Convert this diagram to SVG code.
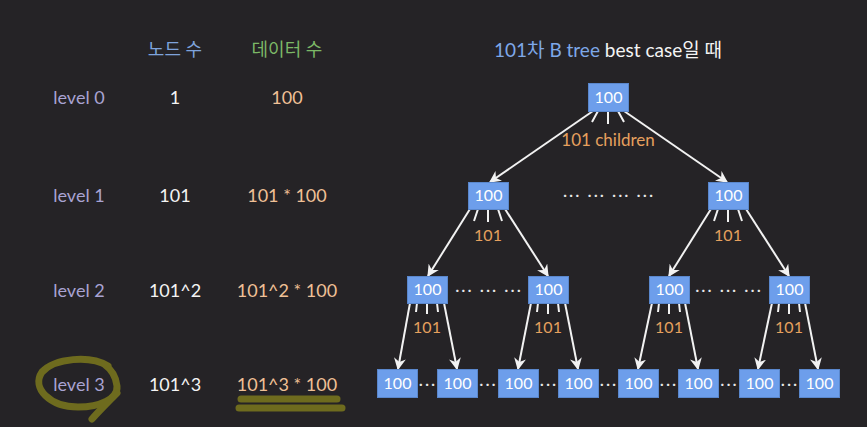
<svg xmlns="http://www.w3.org/2000/svg" width="867" height="427" viewBox="0 0 867 427">
<defs>
<style>
text{font-family:Lato,"Open Sans","Noto Sans CJK KR",sans-serif;text-anchor:middle}
.tb{font-size:18px}
.lv{fill:#a9a3d3}
.nc{fill:#f4f4f4}
.dc{fill:#f0c096}
.node rect{fill:#6d9eeb;stroke:#5a87cc;stroke-width:1}
.node text{fill:#ffffff;font-size:16px}
.lbl{fill:#e6a05e;font-size:16px}
.dots{fill:#e8e8e8;font-size:16px;letter-spacing:2px}
.arr{stroke:#f2f2f2;stroke-width:2;fill:none;marker-end:url(#ah)}
.fan{stroke:#f2f2f2;stroke-width:2;fill:none}
.hl{stroke:#6e6b1e;stroke-width:7;fill:none;stroke-linecap:round;stroke-linejoin:round}
</style>
<marker id="ah" viewBox="0 0 10 10" refX="9" refY="5" markerWidth="6" markerHeight="6" orient="auto" markerUnits="strokeWidth">
<path d="M0,0 L10,5 L0,10 L3,5 z" fill="#f2f2f2"/>
</marker>
</defs>
<rect width="867" height="427" fill="#252326"/>

<g id="table">
<text class="tb" x="175" y="56" fill="#7ea3dc">노드 수</text>
<text class="tb" x="287" y="56" fill="#7cb866">데이터 수</text>
<text class="tb lv" x="79" y="104">level 0</text>
<text class="tb nc" x="175" y="104">1</text>
<text class="tb dc" x="287" y="104">100</text>
<text class="tb lv" x="79" y="202">level 1</text>
<text class="tb nc" x="175" y="202">101</text>
<text class="tb dc" x="287" y="202">101 * 100</text>
<text class="tb lv" x="79" y="297">level 2</text>
<text class="tb nc" x="175" y="297">101^2</text>
<text class="tb dc" x="287" y="297">101^2 * 100</text>
<text class="tb lv" x="79" y="391">level 3</text>
<text class="tb nc" x="175" y="391">101^3</text>
<text class="tb dc" x="287" y="391">101^3 * 100</text>
</g>

<g id="highlight">
<path class="hl" d="M108 366 C90 355,55 358,42 372 C31 388,50 407,78 407 C100 407,118 399,117 386 C116 376,111 369,104 364"/>
<path class="hl" d="M117 393 C108 402,99 411,92 419"/>
<path class="hl" d="M241 399 L337 399"/>
<path class="hl" d="M239 408 L342 408"/>
</g>

<text id="title" x="608" y="57" style="font-size:19px"><tspan fill="#7ea8e8">101차 B tree </tspan><tspan fill="#f4f4f4">best case일 때</tspan></text>

<g id="connectors">
<path class="arr" d="M593 111 L490 182"/>
<path class="arr" d="M624 111 L727 182"/>
<path class="arr" d="M470 209 L428 276"/>
<path class="arr" d="M505 209 L548 276"/>
<path class="arr" d="M711 209 L669 276"/>
<path class="arr" d="M746 209 L789 276"/>
<path class="arr" d="M410 303 L398 369"/>
<path class="arr" d="M444 303 L457 369"/>
<path class="arr" d="M531 303 L518 369"/>
<path class="arr" d="M565 303 L578 369"/>
<path class="arr" d="M652 303 L638 369"/>
<path class="arr" d="M685 303 L698 369"/>
<path class="arr" d="M772 303 L758 369"/>
<path class="arr" d="M805 303 L818 369"/>
<path class="fan" d="M598 111 L592 122 M608 111 L608 124 M618 111 L624 122"/>
<path class="fan" d="M478 209 L474 221 M488 209 L488 222 M498 209 L502 221"/>
<path class="fan" d="M718 209 L714 221 M728 209 L728 222 M738 209 L742 221"/>
<path class="fan" d="M417 303 L416 312 M427 303 L427 314 M437 303 L438 312"/>
<path class="fan" d="M538 303 L537 312 M548 303 L548 314 M558 303 L559 312"/>
<path class="fan" d="M659 303 L658 312 M669 303 L669 314 M679 303 L680 312"/>
<path class="fan" d="M779 303 L778 312 M789 303 L789 314 M799 303 L800 312"/>
</g>

<g id="labels">
<text class="lbl" x="608" y="146" style="font-size:17px">101 children</text>
<text class="lbl" x="488" y="241">101</text>
<text class="lbl" x="728" y="241">101</text>
<text class="lbl" x="427" y="333">101</text>
<text class="lbl" x="548" y="333">101</text>
<text class="lbl" x="669" y="333">101</text>
<text class="lbl" x="789" y="333">101</text>
<text class="dots" x="609" y="200">··· ··· ··· ···</text>
<text class="dots" x="489" y="295">··· ··· ···</text>
<text class="dots" x="729" y="295">··· ··· ···</text>
<text class="dots" x="428" y="389">···</text>
<text class="dots" x="488.5" y="389">···</text>
<text class="dots" x="549" y="389">···</text>
<text class="dots" x="609" y="389">···</text>
<text class="dots" x="669" y="389">···</text>
<text class="dots" x="729.5" y="389">···</text>
<text class="dots" x="790" y="389">···</text>
</g>

<g id="root" class="node"><rect x="588.5" y="83.5" width="40" height="28"/><text x="608.5" y="103">100</text></g>
<g id="n1a" class="node"><rect x="468.5" y="182.5" width="40" height="27"/><text x="488.5" y="201">100</text></g>
<g id="n1b" class="node"><rect x="708.5" y="182.5" width="40" height="27"/><text x="728.5" y="201">100</text></g>
<g id="n2a" class="node"><rect x="407.5" y="276.5" width="40" height="27"/><text x="427.5" y="295">100</text></g>
<g id="n2b" class="node"><rect x="528.5" y="276.5" width="40" height="27"/><text x="548.5" y="295">100</text></g>
<g id="n2c" class="node"><rect x="649.5" y="276.5" width="40" height="27"/><text x="669.5" y="295">100</text></g>
<g id="n2d" class="node"><rect x="769.5" y="276.5" width="40" height="27"/><text x="789.5" y="295">100</text></g>
<g id="n3a" class="node"><rect x="377.5" y="369.5" width="40" height="28"/><text x="397.5" y="389">100</text></g>
<g id="n3b" class="node"><rect x="437.5" y="369.5" width="40" height="28"/><text x="457.5" y="389">100</text></g>
<g id="n3c" class="node"><rect x="498.5" y="369.5" width="40" height="28"/><text x="518.5" y="389">100</text></g>
<g id="n3d" class="node"><rect x="558.5" y="369.5" width="40" height="28"/><text x="578.5" y="389">100</text></g>
<g id="n3e" class="node"><rect x="618.5" y="369.5" width="40" height="28"/><text x="638.5" y="389">100</text></g>
<g id="n3f" class="node"><rect x="678.5" y="369.5" width="40" height="28"/><text x="698.5" y="389">100</text></g>
<g id="n3g" class="node"><rect x="739.5" y="369.5" width="40" height="28"/><text x="759.5" y="389">100</text></g>
<g id="n3h" class="node"><rect x="799.5" y="369.5" width="40" height="28"/><text x="819.5" y="389">100</text></g>
</svg>
